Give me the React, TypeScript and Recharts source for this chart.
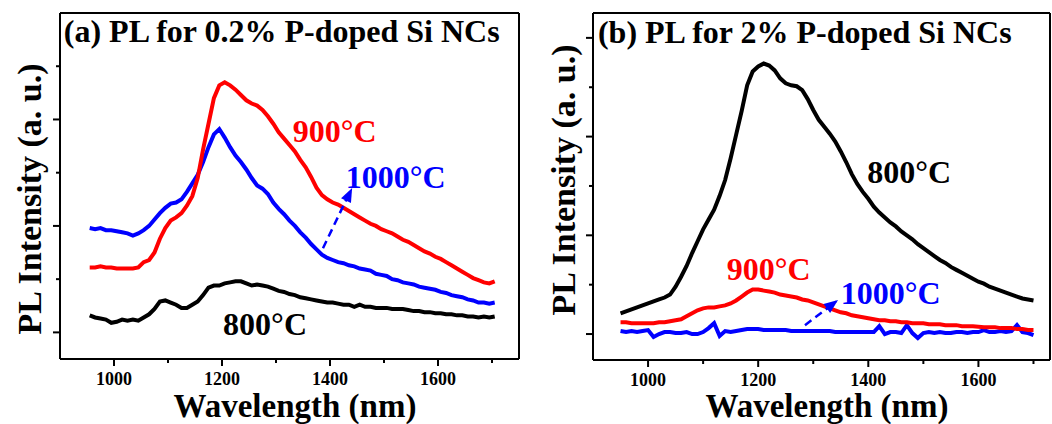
import { LineChart, Line, XAxis, YAxis, ReferenceLine, ReferenceDot, Label } from 'recharts';

// wavelength grids (nm)
const wavelengthA = [
  955, 965, 975, 985, 995, 1005, 1015, 1025, 1035, 1045,
  1055, 1065, 1075, 1085, 1095, 1105, 1115, 1125, 1135, 1145,
  1155, 1165, 1175, 1185, 1195, 1205, 1215, 1225, 1235, 1245,
  1255, 1265, 1275, 1285, 1295, 1305, 1315, 1325, 1335, 1345,
  1355, 1365, 1375, 1385, 1395, 1405, 1415, 1425, 1435, 1445,
  1455, 1465, 1475, 1485, 1495, 1505, 1515, 1525, 1535, 1545,
  1555, 1565, 1575, 1585, 1595, 1605, 1615, 1625, 1635, 1645,
  1655, 1665, 1675, 1685, 1695, 1705,
];
const wavelengthB = [
  950, 960, 970, 980, 990, 1000, 1010, 1020, 1030, 1040,
  1050, 1060, 1070, 1080, 1090, 1100, 1110, 1120, 1130, 1140,
  1150, 1160, 1170, 1180, 1190, 1200, 1210, 1220, 1230, 1240,
  1250, 1260, 1270, 1280, 1290, 1300, 1310, 1320, 1330, 1340,
  1350, 1360, 1370, 1380, 1390, 1400, 1410, 1420, 1430, 1440,
  1450, 1460, 1470, 1480, 1490, 1500, 1510, 1520, 1530, 1540,
  1550, 1560, 1570, 1580, 1590, 1600, 1610, 1620, 1630, 1640,
  1650, 1660, 1670, 1680, 1690, 1700,
];

// (a) 0.2% P-doped
const a800 = [
  0.16, 0.14, 0.13, 0.12, 0.09, 0.10, 0.12, 0.11, 0.12, 0.11,
  0.14, 0.17, 0.22, 0.29, 0.30, 0.28, 0.26, 0.23, 0.23, 0.26,
  0.29, 0.35, 0.42, 0.44, 0.44, 0.46, 0.47, 0.48, 0.48, 0.46,
  0.44, 0.45, 0.44, 0.43, 0.41, 0.39, 0.38, 0.36, 0.35, 0.33,
  0.32, 0.31, 0.30, 0.29, 0.28, 0.28, 0.27, 0.26, 0.26, 0.24,
  0.26, 0.24, 0.24, 0.23, 0.23, 0.23, 0.22, 0.22, 0.22, 0.21,
  0.20, 0.20, 0.19, 0.19, 0.18, 0.18, 0.17, 0.17, 0.16, 0.16,
  0.15, 0.15, 0.14, 0.15, 0.14, 0.15,
];
const a900 = [
  0.61, 0.61, 0.62, 0.61, 0.61, 0.60, 0.60, 0.60, 0.60, 0.61,
  0.66, 0.68, 0.75, 0.88, 0.98, 1.05, 1.08, 1.12, 1.19, 1.28,
  1.45, 1.72, 1.96, 2.20, 2.32, 2.35, 2.32, 2.28, 2.23, 2.18,
  2.15, 2.13, 2.09, 2.03, 1.96, 1.88, 1.82, 1.76, 1.70, 1.62,
  1.55, 1.46, 1.36, 1.29, 1.25, 1.22, 1.20, 1.17, 1.14, 1.11,
  1.08, 1.05, 1.02, 1.00, 0.97, 0.95, 0.93, 0.90, 0.87, 0.85,
  0.82, 0.79, 0.76, 0.74, 0.71, 0.69, 0.66, 0.63, 0.60, 0.57,
  0.54, 0.51, 0.49, 0.47, 0.46, 0.48,
];
const a1000 = [
  0.98, 0.97, 0.98, 0.96, 0.96, 0.95, 0.94, 0.93, 0.91, 0.93,
  0.96, 1.00, 1.06, 1.12, 1.17, 1.21, 1.22, 1.25, 1.32, 1.40,
  1.48, 1.60, 1.74, 1.86, 1.91, 1.83, 1.74, 1.66, 1.60, 1.53,
  1.45, 1.38, 1.35, 1.30, 1.22, 1.16, 1.11, 1.05, 1.00, 0.94,
  0.89, 0.83, 0.78, 0.73, 0.70, 0.68, 0.66, 0.65, 0.63, 0.62,
  0.60, 0.59, 0.58, 0.55, 0.54, 0.53, 0.50, 0.49, 0.47, 0.46,
  0.45, 0.43, 0.42, 0.41, 0.40, 0.38, 0.37, 0.35, 0.34, 0.33,
  0.31, 0.30, 0.28, 0.28, 0.27, 0.28,
];

// (b) 2% P-doped
const b800 = [
  0.21, 0.23, 0.25, 0.27, 0.29, 0.31, 0.33, 0.35, 0.37, 0.40,
  0.48, 0.58, 0.69, 0.82, 0.94, 1.06, 1.16, 1.26, 1.40, 1.56,
  1.78, 2.02, 2.26, 2.52, 2.66, 2.71, 2.74, 2.72, 2.67, 2.59,
  2.54, 2.52, 2.51, 2.47, 2.38, 2.27, 2.17, 2.10, 2.03, 1.95,
  1.85, 1.74, 1.62, 1.52, 1.44, 1.37, 1.29, 1.23, 1.18, 1.13,
  1.09, 1.04, 1.00, 0.96, 0.91, 0.87, 0.83, 0.79, 0.75, 0.72,
  0.68, 0.65, 0.62, 0.59, 0.56, 0.53, 0.51, 0.48, 0.46, 0.44,
  0.42, 0.40, 0.38, 0.36, 0.35, 0.34,
];
const b900 = [
  0.12, 0.12, 0.11, 0.11, 0.11, 0.11, 0.11, 0.12, 0.12, 0.13,
  0.14, 0.15, 0.18, 0.21, 0.24, 0.26, 0.27, 0.27, 0.28, 0.29,
  0.31, 0.34, 0.38, 0.42, 0.45, 0.45, 0.44, 0.43, 0.42, 0.40,
  0.39, 0.38, 0.37, 0.35, 0.34, 0.32, 0.30, 0.28, 0.26, 0.24,
  0.22, 0.21, 0.19, 0.18, 0.17, 0.16, 0.15, 0.14, 0.14, 0.13,
  0.13, 0.12, 0.12, 0.11, 0.11, 0.11, 0.10, 0.10, 0.10, 0.09,
  0.09, 0.09, 0.08, 0.08, 0.08, 0.075, 0.07, 0.07, 0.07, 0.06,
  0.06, 0.06, 0.05, 0.05, 0.04, 0.04,
];
const b1000 = [
  0.03, 0.02, 0.03, 0.02, 0.03, 0.04, -0.03, 0.00, 0.02, 0.02,
  0.01, 0.01, 0.02, 0.00, 0.00, 0.02, 0.06, 0.11, -0.02, 0.03,
  0.02, 0.03, 0.04, 0.05, 0.05, 0.05, 0.04, 0.04, 0.04, 0.04,
  0.04, 0.03, 0.03, 0.03, 0.03, 0.03, 0.03, 0.03, 0.03, 0.02,
  0.02, 0.02, 0.02, 0.02, 0.02, 0.02, 0.02, 0.08, 0.00, 0.02,
  0.02, 0.01, 0.09, 0.01, -0.04, 0.01, 0.02, 0.01, 0.02, 0.01,
  0.01, 0.02, 0.02, 0.01, 0.02, 0.02, 0.04, 0.02, 0.02, 0.03,
  0.02, 0.03, 0.09, 0.02, 0.01, -0.01,
];

const xTicks = [1000, 1100, 1200, 1300, 1400, 1500, 1600, 1700];
const yTicksA = [0, 0.5, 1, 1.5, 2, 2.5];
const yTicksB = [0, 0.5, 1, 1.5, 2, 2.5, 3];

const SERIF = "'Liberation Serif', 'Times New Roman', serif";
const RED = '#ff0000';
const BLUE = '#0000ff';

const toPoints = (xs: number[], ys: number[]) => xs.map((x, i) => ({ x, y: ys[i] }));

const frame = { stroke: '#000', strokeWidth: 2 };

// tick marks: long for labelled (major) ticks, short otherwise
const makeXTick = (axisY: number) => (props: any) => {
  const { x, payload } = props;
  const major = payload.value % 200 === 0;
  return (
    <g>
      <line x1={x} x2={x} y1={axisY} y2={axisY + (major ? 7 : 4)} stroke="#000" strokeWidth={2} />
      {major && (
        <text x={x} y={axisY + 26} textAnchor="middle" fontFamily={SERIF} fontWeight="bold" fontSize={18} fill="#000">
          {payload.value}
        </text>
      )}
    </g>
  );
};

const makeYTick = (axisX: number) => (props: any) => {
  const { y, payload } = props;
  const major = Number.isInteger(payload.value);
  return <line x1={axisX - (major ? 7 : 4)} x2={axisX} y1={y} y2={y} stroke="#000" strokeWidth={2} />;
};

const note = (text: string, color: string) => (p: any) => (
  <text x={p.cx} y={p.cy} fontFamily={SERIF} fontWeight="bold" fontSize={32} fill={color}>
    {text}
  </text>
);

const arrowHead = (angle: number) => (p: any) => (
  <polygon
    points="0,0 -14,-5.5 -14,5.5"
    fill={BLUE}
    transform={`translate(${p.cx},${p.cy}) rotate(${angle})`}
  />
);

const fixedText = (text: string, x: number, y: number, size: number, rotate = false, anchor = 'middle') => () => (
  <text
    x={x}
    y={y}
    textAnchor={anchor}
    fontFamily={SERIF}
    fontWeight="bold"
    fontSize={size}
    fill="#000"
    transform={rotate ? `rotate(-90, ${x}, ${y})` : undefined}
  >
    {text}
  </text>
);

function PanelA() {
  return (
    <LineChart width={530} height={424} margin={{ top: 13, right: 11, bottom: 0, left: 0 }}>
      <XAxis
        type="number"
        dataKey="x"
        domain={[900, 1750]}
        ticks={xTicks}
        interval={0}
        height={65}
        tickSize={0}
        tickMargin={0}
        axisLine={frame}
        tickLine={false}
        tick={makeXTick(359)}
        allowDataOverflow
      >
        <Label content={fixedText('Wavelength (nm)', 295, 417, 33)} />
      </XAxis>
      <YAxis
        type="number"
        domain={[-0.25, 3]}
        ticks={yTicksA}
        interval={0}
        width={60}
        tickSize={0}
        tickMargin={0}
        axisLine={frame}
        tickLine={false}
        tick={makeYTick(60)}
        allowDataOverflow
      >
        <Label content={fixedText('PL Intensity (a. u.)', 41, 199, 34, true)} />
      </YAxis>
      <ReferenceLine y={3} stroke="#000" strokeWidth={2} />
      <ReferenceLine x={1750} stroke="#000" strokeWidth={2} />
      <Line data={toPoints(wavelengthA, a800)} dataKey="y" type="linear" stroke="#000" strokeWidth={4} dot={false} isAnimationActive={false} />
      <Line data={toPoints(wavelengthA, a1000)} dataKey="y" type="linear" stroke={BLUE} strokeWidth={4} dot={false} isAnimationActive={false} />
      <Line data={toPoints(wavelengthA, a900)} dataKey="y" type="linear" stroke={RED} strokeWidth={4} dot={false} isAnimationActive={false} />
      <ReferenceLine segment={[{ x: 1387, y: 0.79 }, { x: 1438, y: 1.33 }]} stroke={BLUE} strokeWidth={2.5} strokeDasharray="8 5" />
      <ReferenceDot x={1441} y={1.356} r={0} shape={arrowHead(-64)} />
      <ReferenceDot x={907} y={2.73} r={0} shape={note('(a) PL for 0.2% P-doped Si NCs', '#000')} />
      <ReferenceDot x={1331} y={1.79} r={0} shape={note('900°C', RED)} />
      <ReferenceDot x={1429} y={1.356} r={0} shape={note('1000°C', BLUE)} />
      <ReferenceDot x={1202} y={-0.024} r={0} shape={note('800°C', '#000')} />
    </LineChart>
  );
}

function PanelB() {
  return (
    <LineChart width={522} height={424} margin={{ top: 13, right: 2, bottom: 0, left: 0 }}>
      <XAxis
        type="number"
        dataKey="x"
        domain={[900, 1730]}
        ticks={xTicks}
        interval={0}
        height={64}
        tickSize={0}
        tickMargin={0}
        axisLine={frame}
        tickLine={false}
        tick={makeXTick(360)}
        allowDataOverflow
      >
        <Label content={fixedText('Wavelength (nm)', 297, 417, 33)} />
      </XAxis>
      <YAxis
        type="number"
        domain={[-0.263, 3.252]}
        ticks={yTicksB}
        interval={0}
        width={63}
        tickSize={0}
        tickMargin={0}
        axisLine={frame}
        tickLine={false}
        tick={makeYTick(63)}
        allowDataOverflow
      >
        <Label content={fixedText('PL Intensity (a. u.)', 45, 180, 34, true)} />
      </YAxis>
      <ReferenceLine y={3.252} stroke="#000" strokeWidth={2} />
      <ReferenceLine x={1730} stroke="#000" strokeWidth={2} />
      <Line data={toPoints(wavelengthB, b800)} dataKey="y" type="linear" stroke="#000" strokeWidth={4} dot={false} isAnimationActive={false} />
      <Line data={toPoints(wavelengthB, b1000)} dataKey="y" type="linear" stroke={BLUE} strokeWidth={4} dot={false} isAnimationActive={false} />
      <Line data={toPoints(wavelengthB, b900)} dataKey="y" type="linear" stroke={RED} strokeWidth={4} dot={false} isAnimationActive={false} />
      <ReferenceLine segment={[{ x: 1285, y: 0.09 }, { x: 1342, y: 0.33 }]} stroke={BLUE} strokeWidth={2.5} strokeDasharray="8 5" />
      <ReferenceDot x={1345} y={0.344} r={0} shape={arrowHead(-37)} />
      <ReferenceDot x={909} y={2.95} r={0} shape={note('(b) PL for 2% P-doped Si NCs', '#000')} />
      <ReferenceDot x={1398} y={1.53} r={0} shape={note('800°C', '#000')} />
      <ReferenceDot x={1143} y={0.547} r={0} shape={note('900°C', RED)} />
      <ReferenceDot x={1350} y={0.304} r={0} shape={note('1000°C', BLUE)} />
    </LineChart>
  );
}

export default function App() {
  return (
    <div style={{ position: 'absolute', left: 0, top: 0, width: 1052, height: 424, background: '#fff' }}>
      <div style={{ position: 'absolute', left: 0, top: 0 }}>
        <PanelA />
      </div>
      <div style={{ position: 'absolute', left: 530, top: 0 }}>
        <PanelB />
      </div>
    </div>
  );
}
